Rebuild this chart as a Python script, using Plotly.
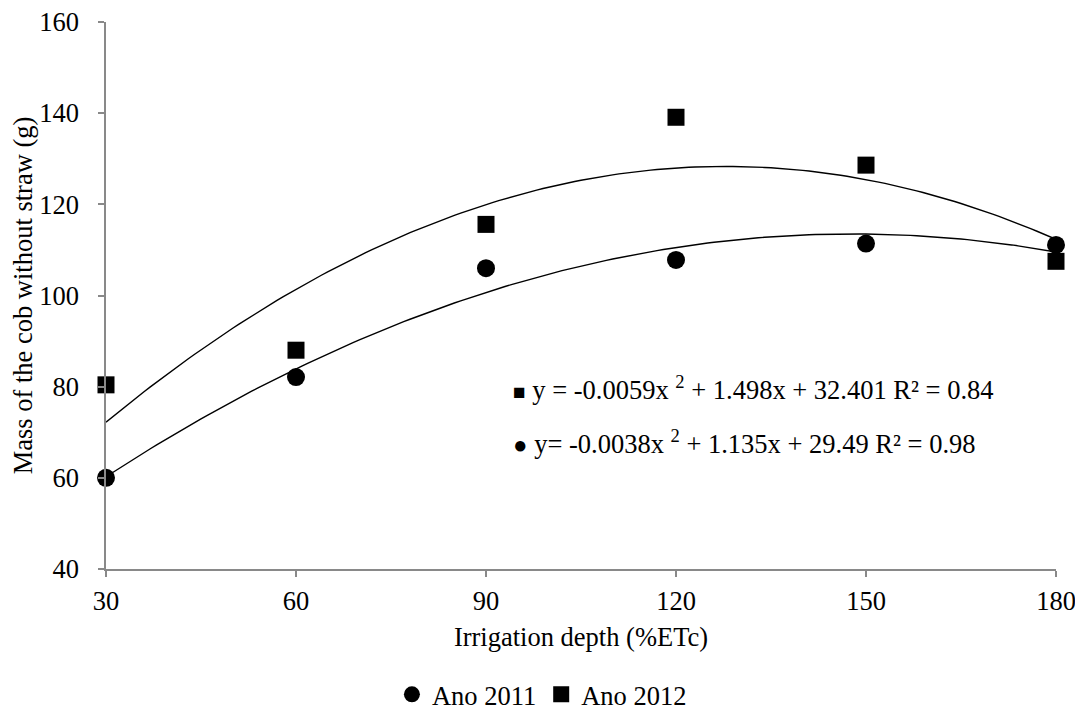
import numpy as np
import plotly.graph_objects as go

x_vals = [30, 60, 90, 120, 150, 180]
y_2011 = [60.0, 82.1, 106.0, 107.8, 111.4, 111.1]
y_2012 = [80.4, 88.0, 115.6, 139.1, 128.6, 107.5]
x_ticks = [30, 60, 90, 120, 150, 180]
y_ticks = [40, 60, 80, 100, 120, 140, 160]
eq_2012 = "<span style='font-size:21px'>■</span> y = -0.0059x <sup>2</sup> + 1.498x + 32.401 R² = 0.84"
eq_2011 = "<span style='font-size:24px'>●</span> y= -0.0038x <sup>2</sup> + 1.135x + 29.49 R² = 0.98"

FONT = "'Times New Roman', 'Liberation Serif', 'DejaVu Serif', serif"
FS = 26.5

xs = np.linspace(min(x_vals), max(x_vals), 151)
c11 = np.polyfit(x_vals, y_2011, 2)
c12 = np.polyfit(x_vals, y_2012, 2)

fig = go.Figure()
fig.add_trace(go.Scatter(x=xs, y=np.polyval(c12, xs), mode="lines", cliponaxis=False,
                         line=dict(color="black", width=1.4), showlegend=False, hoverinfo="skip"))
fig.add_trace(go.Scatter(x=xs, y=np.polyval(c11, xs), mode="lines", cliponaxis=False,
                         line=dict(color="black", width=1.4), showlegend=False, hoverinfo="skip"))
fig.add_trace(go.Scatter(x=x_vals, y=y_2011, mode="markers", name="Ano 2011", cliponaxis=False,
                         marker=dict(symbol="circle", size=18, color="black")))
fig.add_trace(go.Scatter(x=x_vals, y=y_2012, mode="markers", name="Ano 2012", cliponaxis=False,
                         marker=dict(symbol="square", size=17, color="black")))

fig.add_annotation(x=94.0, y=79.8, xref="x", yref="y", text=eq_2012, showarrow=False,
                   xanchor="left", yanchor="middle", font=dict(family=FONT, size=FS, color="black"))
fig.add_annotation(x=94.0, y=67.8, xref="x", yref="y", text=eq_2011, showarrow=False,
                   xanchor="left", yanchor="middle", font=dict(family=FONT, size=FS, color="black"))

axis_common = dict(showgrid=False, zeroline=False, showline=True, linecolor="#898989", linewidth=1.5,
                   ticks="outside", ticklen=6, tickcolor="#898989", tickwidth=1.5, automargin=False,
                   ticklabeloverflow="allow",
                   tickfont=dict(family=FONT, size=FS, color="black"))
fig.update_xaxes(range=[30, 180], tickvals=x_ticks, ticktext=[str(v) for v in x_ticks],
                 ticklabelstandoff=1,
                 title=dict(text="Irrigation depth (%ETc)", font=dict(family=FONT, size=FS, color="black"), standoff=13),
                 **axis_common)
fig.update_yaxes(range=[40, 160], tickvals=y_ticks, ticktext=[str(v) for v in y_ticks],
                 ticklabelstandoff=14,
                 title=dict(text="Mass of the cob without straw (g)", font=dict(family=FONT, size=FS, color="black"), standoff=2),
                 **axis_common)

fig.update_layout(
    width=1083, height=719,
    margin=dict(l=98, r=35, t=14, b=158),
    paper_bgcolor="white", plot_bgcolor="white",
    font=dict(family=FONT, size=FS, color="black"),
    legend=dict(orientation="h", xref="container", yref="container", x=0.493, xanchor="center",
                y=0.045, yanchor="middle",
                font=dict(family=FONT, size=FS, color="black"), itemwidth=30, tracegroupgap=0),
)
fig.write_html("out.html")
